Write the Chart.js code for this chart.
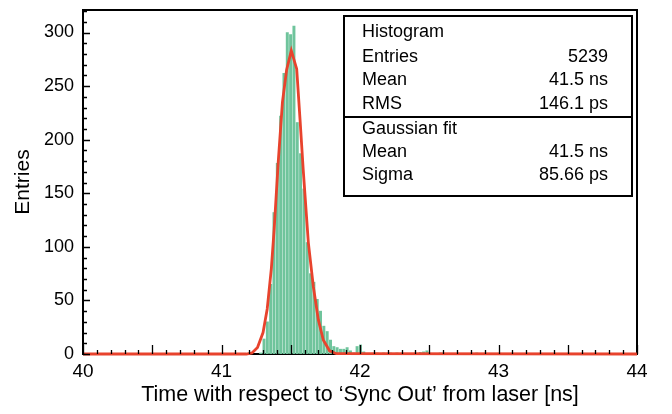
<!DOCTYPE html>
<html>
<head>
<meta charset="utf-8">
<script src="https://cdn.jsdelivr.net/npm/chart.js@4.4.1/dist/chart.umd.min.js"></script>
<style>
  body { margin: 0; background: #fff; }
  #wrap { width: 672px; height: 414px; position: relative; }
</style>
</head>
<body>
<div id="wrap"><canvas id="histo"></canvas></div>
<script>
// histogram bins (ns) and counts
const binCenters = [41.283, 41.307, 41.331, 41.355, 41.379, 41.403, 41.427, 41.451, 41.475, 41.499,
  41.523, 41.547, 41.571, 41.595, 41.619, 41.643, 41.667, 41.691, 41.715, 41.739,
  41.763, 41.787, 41.811, 41.835, 41.859, 41.883, 41.907, 41.931, 41.955, 41.979,
  42.003, 42.027, 42.123, 42.171, 42.219, 42.267, 42.435, 42.459, 42.483, 42.579, 42.843];
const binCounts = [1, 14, 30, 65, 132, 178, 222, 262, 300, 298,
  306, 216, 187, 154, 104, 75, 67, 51, 40, 26,
  21, 13, 7, 6, 4.5, 4.5, 6, 3, 1, 7,
  8.5, 2, 1, 1, 1, 1, 1.5, 2, 3, 1, 1];

// gaussian fit curve as drawn
const fitTimes = [40, 41.18, 41.22, 41.26, 41.30, 41.33, 41.36, 41.38, 41.41, 41.44, 41.47,
  41.504, 41.543, 41.567, 41.59, 41.627, 41.663, 41.699, 41.735, 41.78, 41.83, 44];
const fitValues = [0, 0, 1, 6, 20, 42, 80, 116, 180, 235, 265,
  283, 266, 219, 172, 104, 63, 32, 13, 3, 0.3, 0];

const xMin = 40, xMax = 44, yMax = 321;
const statsHisto = [["Entries", "5239"], ["Mean", "41.5 ns"], ["RMS", "146.1 ps"]];
const statsFit = [["Mean", "41.5 ns"], ["Sigma", "85.66 ps"]];

const FONT = "'Liberation Sans', Arial, sans-serif";

const rootFrame = {
  id: 'rootFrame',
  beforeDatasetsDraw(chart) {
    const {ctx, chartArea: a} = chart;
    ctx.save();
    ctx.strokeStyle = '#000';
    ctx.lineWidth = 2;
    ctx.strokeRect(a.left, a.top, a.right - a.left, a.bottom - a.top);
    ctx.restore();
  },
  afterDatasetsDraw(chart) {
    const {ctx, chartArea: a, scales} = chart;
    ctx.save();
    ctx.strokeStyle = '#000';
    ctx.lineWidth = 1.3;
    ctx.beginPath();
    for (let i = 0; i <= 40; i++) {
      const v = xMin + i * 0.1;
      const px = Math.round(scales.x.getPixelForValue(v)) + 0.5;
      const len = i % 5 === 0 ? 9 : 4;
      ctx.moveTo(px, a.bottom);
      ctx.lineTo(px, a.bottom - len);
    }
    for (let v = 0; v <= 320; v += 10) {
      const py = Math.round(scales.y.getPixelForValue(v)) + 0.5;
      const len = v % 50 === 0 ? 7 : 4;
      ctx.moveTo(a.left, py);
      ctx.lineTo(a.left + len, py);
    }
    ctx.stroke();
    ctx.restore();
  },
  afterDraw(chart) {
    const ctx = chart.ctx;
    ctx.save();
    ctx.fillStyle = '#fff';
    ctx.fillRect(344, 16, 288, 180);
    ctx.strokeStyle = '#000';
    ctx.lineWidth = 2;
    ctx.strokeRect(344, 16, 288, 180);
    ctx.beginPath();
    ctx.moveTo(344, 117);
    ctx.lineTo(632, 117);
    ctx.stroke();
    ctx.fillStyle = '#000';
    ctx.font = '18px ' + FONT;
    ctx.textBaseline = 'middle';
    const left = 362, right = 608;
    ctx.textAlign = 'left';
    ctx.fillText('Histogram', left, 32);
    statsHisto.forEach((r, i) => {
      const y = 57 + i * 23.4;
      ctx.textAlign = 'left'; ctx.fillText(r[0], left, y);
      ctx.textAlign = 'right'; ctx.fillText(r[1], right, y);
    });
    ctx.textAlign = 'left';
    ctx.fillText('Gaussian fit', left, 129);
    statsFit.forEach((r, i) => {
      const y = 152 + i * 23.4;
      ctx.textAlign = 'left'; ctx.fillText(r[0], left, y);
      ctx.textAlign = 'right'; ctx.fillText(r[1], right, y);
    });
    ctx.restore();
  }
};

new Chart(document.getElementById('histo'), {
  type: 'bar',
  data: {
    datasets: [
      {
        type: 'line',
        data: fitTimes.map((x, i) => ({x: x, y: fitValues[i]})),
        borderColor: '#e8432d',
        borderWidth: 2.8,
        pointRadius: 0,
        tension: 0,
        clip: false,
        order: 1
      },
      {
        type: 'bar',
        data: binCenters.map((x, i) => ({x: x, y: binCounts[i]})),
        backgroundColor: '#6fc49c',
        barThickness: 2.3,
        grouped: false,
        order: 2
      }
    ]
  },
  options: {
    responsive: true,
    maintainAspectRatio: false,
    animation: false,
    layout: { padding: { left: 0, right: 35, top: 10, bottom: 0 } },
    plugins: { legend: { display: false }, tooltip: { enabled: false } },
    scales: {
      x: {
        type: 'linear',
        min: xMin, max: xMax,
        offset: false,
        grid: { display: false, drawTicks: false },
        border: { display: false },
        ticks: { stepSize: 1, autoSkip: false, maxRotation: 0, color: '#000', padding: 6,
          font: { family: FONT, size: 19 } },
        title: { display: true, text: 'Time with respect to \u2018Sync Out\u2019 from laser [ns]',
          color: '#000', font: { family: FONT, size: 21.5 }, padding: { top: 0, bottom: 6 } },
        afterFit(s) { s.height = 60; s.paddingLeft = 0; s.paddingRight = 0; }
      },
      y: {
        min: 0, max: yMax,
        grid: { display: false, drawTicks: false },
        border: { display: false },
        ticks: { stepSize: 50, includeBounds: false, color: '#000', padding: 9,
          font: { family: FONT, size: 18 } },
        title: { display: true, text: 'Entries', color: '#000',
          font: { family: FONT, size: 21 }, padding: { top: 11, bottom: 0 } },
        afterFit(s) { s.width = 83; s.paddingTop = 0; s.paddingBottom = 0; }
      }
    }
  },
  plugins: [rootFrame]
});
</script>
</body>
</html>
